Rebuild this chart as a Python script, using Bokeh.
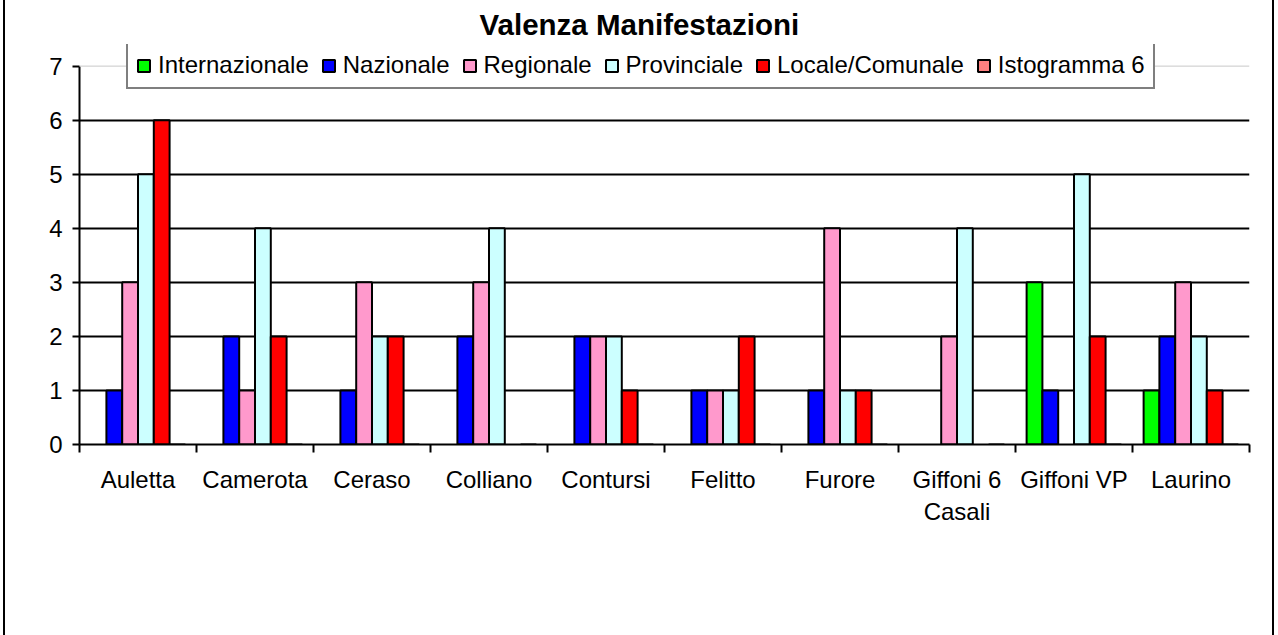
from bokeh.plotting import figure
from bokeh.models import FixedTicker, Span, Legend, LegendItem, Range1d
from bokeh.embed import file_html
from bokeh.resources import INLINE

# ---- data ----
categories = ["Auletta", "Camerota", "Ceraso", "Colliano", "Contursi",
              "Felitto", "Furore", "Giffoni 6\nCasali", "Giffoni VP", "Laurino"]
series_names = ["Internazionale", "Nazionale", "Regionale", "Provinciale",
                "Locale/Comunale", "Istogramma 6"]
internazionale = [0, 0, 0, 0, 0, 0, 0, 0, 3, 1]
nazionale = [1, 2, 1, 2, 2, 1, 1, 0, 1, 2]
regionale = [3, 1, 3, 3, 2, 1, 4, 2, 0, 3]
provinciale = [5, 4, 2, 4, 2, 1, 1, 4, 5, 2]
locale_comunale = [6, 2, 2, 0, 1, 2, 1, 0, 2, 1]
istogramma_6 = [0, 0, 0, 0, 0, 0, 0, 0, 0, 0]
y_ticks = [0, 1, 2, 3, 4, 5, 6, 7]

series_values = [internazionale, nazionale, regionale, provinciale,
                 locale_comunale, istogramma_6]
colors = ["#00FF00", "#0000FF", "#FF99CC", "#CCFFFF", "#FF0000", "#FF8080"]

FONT = "Liberation Sans"
BAR_W = 0.135
n_cat = len(categories)
y_max = y_ticks[-1]

p = figure(width=1271, height=635, output_backend="svg", toolbar_location=None,
           x_range=Range1d(0, n_cat), y_range=Range1d(0, y_max + 0.4),
           min_border_left=76, min_border_right=25, min_border_top=44,
           min_border_bottom=191)
p.styles = {"margin-left": "3px",
            "box-shadow": "inset 2px 0 0 0 black, inset -2px 0 0 0 black"}
p.border_fill_color = None
p.background_fill_color = None
p.outline_line_color = None

# title
p.title.text = "Valenza Manifestazioni"
p.title.align = "left"
p.title.offset = 400
p.title.standoff = 7
p.title.text_font = FONT
p.title.text_font_size = "29.5px"
p.title.text_font_style = "bold"
p.title.text_color = "black"

# grid
p.xgrid.visible = False
p.ygrid.ticker = FixedTicker(ticks=y_ticks[1:-1])
p.ygrid.grid_line_color = "black"
p.ygrid.grid_line_width = 2
p.add_layout(Span(location=y_max, dimension="width",
                  line_color="#c8c8c8", line_width=1))

# bars: zero values are not drawn (a series with only zeros keeps its
# flat bars so that its legend swatch can still be drawn)
renderers = []
for j, (name, vals, col) in enumerate(zip(series_names, series_values, colors)):
    keep = [i for i, v in enumerate(vals) if v > 0] or list(range(len(vals)))
    xs = [i + 0.5 + (j - 2.5) * BAR_W for i in keep]
    tops = [vals[i] for i in keep]
    r = p.vbar(x=xs, top=tops, bottom=0, width=BAR_W, fill_color=col,
               line_color="black", line_width=2)
    renderers.append(r)

# x axis
xax = p.xaxis[0]
xax.ticker = FixedTicker(ticks=[i + 0.5 for i in range(n_cat)],
                         minor_ticks=list(range(n_cat + 1)))
xax.major_label_overrides = {i + 0.5: c for i, c in enumerate(categories)}
xax.major_tick_out = 0
xax.major_tick_in = 0
xax.minor_tick_out = 8
xax.minor_tick_in = 0
xax.minor_tick_line_width = 2
xax.minor_tick_line_color = "black"
xax.axis_line_width = 2
xax.axis_line_color = "black"
xax.major_label_standoff = 13
xax.major_label_text_font = FONT
xax.major_label_text_font_size = "24px"
xax.major_label_text_color = "black"

# y axis
yax = p.yaxis[0]
yax.bounds = (y_ticks[0], y_max)
yax.ticker = FixedTicker(ticks=y_ticks, minor_ticks=[])
yax.major_tick_out = 7
yax.major_tick_in = 0
yax.major_tick_line_width = 2
yax.major_tick_line_color = "black"
yax.axis_line_width = 2
yax.axis_line_color = "black"
yax.major_label_standoff = 10
yax.major_label_text_font = FONT
yax.major_label_text_font_size = "24px"
yax.major_label_text_color = "black"

legend = Legend(items=[LegendItem(label=n, renderers=[r], index=0)
                       for n, r in zip(series_names, renderers)],
                orientation="horizontal", location=(47, 355))
legend.label_text_font = FONT
legend.label_text_font_size = "24px"
legend.label_text_color = "black"
legend.glyph_width = 15
legend.glyph_height = 15
legend.label_standoff = 7
legend.spacing = 12
legend.padding = 8
legend.margin = 0
legend.label_height = 26
legend.border_line_color = "black"
legend.border_line_width = 2
legend.background_fill_color = "white"
legend.background_fill_alpha = 1
p.add_layout(legend)

open("out.html", "w").write(file_html(p, INLINE))
